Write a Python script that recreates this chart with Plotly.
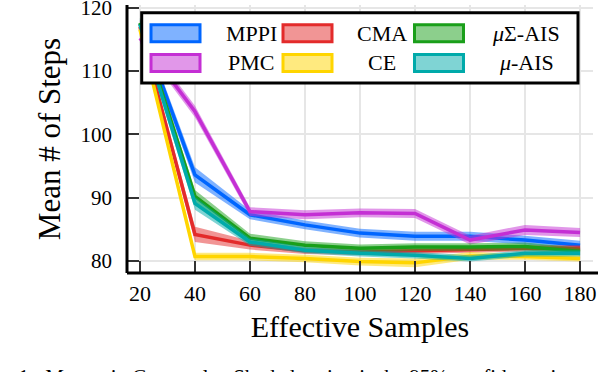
import plotly.graph_objects as go

# effective samples
samples = [20, 40, 60, 80, 100, 120, 140, 160, 180]

# mean number of steps per method
mppi = [117.5, 93.6, 87.3, 85.7, 84.4, 83.9, 83.9, 83.3, 82.5]
pmc = [115.2, 103.6, 87.8, 87.3, 87.6, 87.5, 83.3, 84.9, 84.5]
cma = [117.0, 84.2, 82.5, 81.6, 81.4, 81.6, 81.7, 82.0, 82.0]
ce = [116.6, 80.7, 80.7, 80.4, 79.9, 79.7, 80.8, 80.7, 80.4]
mu_sigma_ais = [117.6, 90.2, 83.6, 82.5, 82.0, 82.2, 82.2, 82.3, 81.5]
mu_ais = [117.3, 89.1, 83.0, 81.7, 81.2, 80.9, 80.4, 81.2, 81.2]

# half width of the 95% band
mppi_ci = [0.8, 1.2, 0.7, 0.7, 0.7, 0.7, 0.7, 0.7, 0.7]
pmc_ci = [0.8, 0.9, 0.7, 0.7, 0.7, 0.7, 0.7, 0.8, 0.7]
cma_ci = [0.8, 1.2, 0.7, 0.5, 0.5, 0.5, 0.5, 0.5, 0.5]
ce_ci = [0.8, 0.6, 0.6, 0.6, 0.6, 0.7, 0.6, 0.5, 0.5]
mu_sigma_ais_ci = [0.8, 1.0, 0.7, 0.6, 0.6, 0.6, 0.6, 0.6, 0.6]
mu_ais_ci = [0.8, 1.0, 0.6, 0.5, 0.5, 0.5, 0.5, 0.5, 0.5]

names = ["MPPI", "PMC", "CMA", "CE", "<i>μ</i>Σ-AIS", "<i>μ</i>-AIS"]
means = [mppi, pmc, cma, ce, mu_sigma_ais, mu_ais]
cis = [mppi_ci, pmc_ci, cma_ci, ce_ci, mu_sigma_ais_ci, mu_ais_ci]
colors = ["#0066ff", "#c42fd4", "#e32b2b", "#ffd500", "#1a9f1a", "#00aaaa"]

W, H = 598, 372
L, R, T, B = 127, 5, 5, 372 - 273
SERIF = "Liberation Serif, DejaVu Serif, serif"


def rgba(hexc, a):
    h = hexc.lstrip("#")
    return "rgba(%d,%d,%d,%.2f)" % (int(h[0:2], 16), int(h[2:4], 16), int(h[4:6], 16), a)


def px(x, y):
    # page pixel position -> paper coords
    return (x - L) / (W - L - R), (H - B - y) / (H - T - B)


fig = go.Figure()

for name, m, c, col in zip(names, means, cis, colors):
    upper = [a + b for a, b in zip(m, c)]
    lower = [a - b for a, b in zip(m, c)]
    fig.add_trace(go.Scatter(x=samples, y=upper, mode="lines", line=dict(width=0),
                             showlegend=False, hoverinfo="skip"))
    fig.add_trace(go.Scatter(x=samples, y=lower, mode="lines", line=dict(width=0),
                             fill="tonexty", fillcolor=rgba(col, 0.5),
                             showlegend=False, hoverinfo="skip"))
    fig.add_trace(go.Scatter(x=samples, y=m, mode="lines", name=name,
                             line=dict(color=col, width=3.5), showlegend=False))

# hand-drawn legend box like the pgfplots one
shapes = []
annotations = []
x0, y0 = px(141.7, 12.7)
x1, y1 = px(578, 83)
shapes.append(dict(type="rect", xref="paper", yref="paper", x0=x0, y0=y0, x1=x1, y1=y1,
                   line=dict(color="black", width=3), fillcolor="white", layer="above"))
sw_x = [151, 283, 414.5]
txt_x = [251, 382.3, 526]
row_y = [33.3, 63]
for i, (name, col) in enumerate(zip(names, colors)):
    ci_, ri = i // 2, i % 2
    sx0, sy0 = px(sw_x[ci_], row_y[ri] - 8.5)
    sx1, sy1 = px(sw_x[ci_] + 49, row_y[ri] + 8.5)
    shapes.append(dict(type="rect", xref="paper", yref="paper", x0=sx0, y0=sy0, x1=sx1, y1=sy1,
                       line=dict(color=col, width=3), fillcolor=rgba(col, 0.5), layer="above"))
    tx, ty = px(txt_x[ci_], row_y[ri])
    annotations.append(dict(xref="paper", yref="paper", x=tx, y=ty, text=name, showarrow=False,
                            xanchor="center", yanchor="middle",
                            font=dict(family=SERIF, size=22, color="black")))

# axis spines
shapes.append(dict(type="line", xref="paper", yref="paper", x0=0, x1=0, y0=0, y1=1,
                   line=dict(color="black", width=3), layer="above"))
shapes.append(dict(type="line", xref="paper", yref="paper", x0=0, x1=1.02, y0=0, y1=0,
                   line=dict(color="black", width=3), layer="above"))

# caption, mostly cut off at the bottom edge
cx, cy = px(300, 363)
annotations.append(dict(xref="paper", yref="paper", x=cx, y=cy, text=
                        "Fig. 1:  Mountain Car results. Shaded region is the 95% confidence interval.",
                        showarrow=False, xanchor="center", yanchor="top",
                        font=dict(family=SERIF, size=21, color="black")))

# 120 gridline sits at page y ~7.7, 6.336 px per step
ytop = 120 + (7.7 - T) / 6.336

fig.update_layout(
    width=W, height=H,
    margin=dict(l=L, r=R, t=T, b=B, autoexpand=False),
    paper_bgcolor="white", plot_bgcolor="white",
    font=dict(family=SERIF, size=22, color="black"),
    shapes=shapes, annotations=annotations,
    xaxis=dict(range=[15.3, 184.7], tickvals=samples, showgrid=True, gridcolor="#e6e6e6",
               gridwidth=1.5, zeroline=False, ticks="inside", ticklen=12, tickwidth=1.5,
               tickcolor="#333333", showline=False, ticklabelstandoff=5,
               ticklabeloverflow="allow", automargin=False,
               title=dict(text="Effective Samples", font=dict(size=30), standoff=10),
               tickfont=dict(size=22)),
    yaxis=dict(range=[78.1, ytop], tickvals=[80, 90, 100, 110, 120], showgrid=True,
               gridcolor="#e6e6e6", gridwidth=1.5, zeroline=False, ticks="inside",
               ticklen=12, tickwidth=1.5, tickcolor="#333333", showline=False,
               ticklabelstandoff=14, ticklabeloverflow="allow", automargin=False,
               title=dict(text="Mean # of Steps", font=dict(size=31), standoff=10),
               tickfont=dict(size=21)),
)

# drop the browser's default body margin so the figure fills the window
fig.write_html("out.html", config={"displayModeBar": False},
               post_script="document.body.style.margin='0';")
